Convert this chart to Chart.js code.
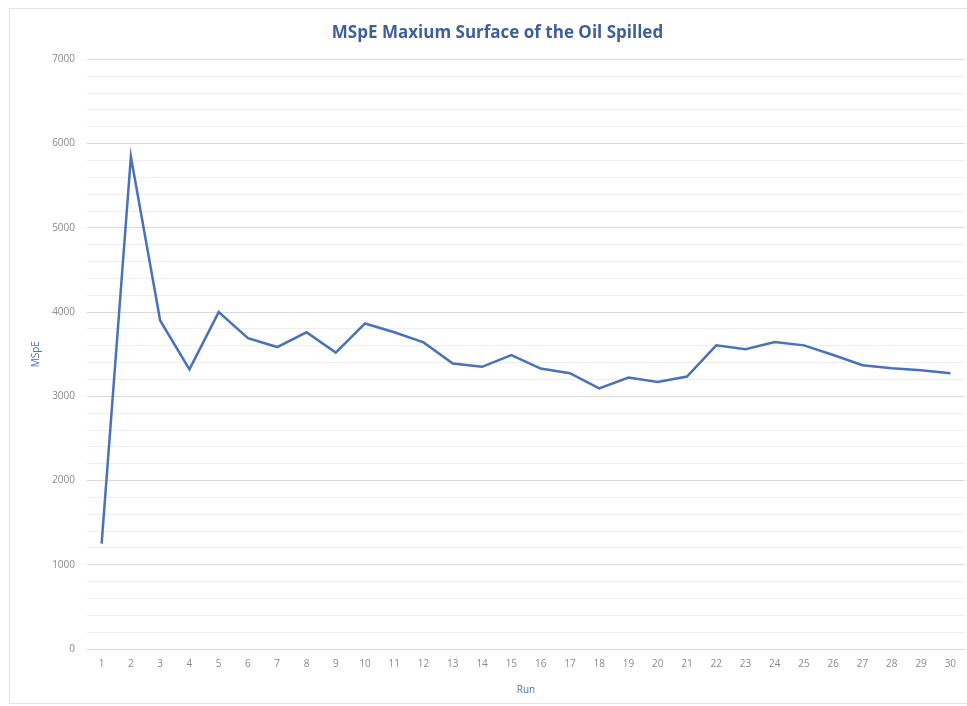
<!DOCTYPE html>
<html>
<head>
<meta charset="utf-8">
<title>MSpE Maxium Surface of the Oil Spilled</title>
<script src="https://cdn.jsdelivr.net/npm/chart.js@4"></script>
<style>
  html, body { margin: 0; padding: 0; background: #fff; }
  #wrap { position: relative; width: 967px; height: 706px; }
</style>
</head>
<body>
<div id="wrap"><canvas id="chart"></canvas></div>
<script>
// --- data ---
const runs = ['1','2','3','4','5','6','7','8','9','10','11','12','13','14','15',
              '16','17','18','19','20','21','22','23','24','25','26','27','28','29','30'];
const mspe = [1250, 5845, 3900, 3320, 4000, 3690, 3585, 3760, 3520, 3865,
              3760, 3640, 3390, 3350, 3488, 3330, 3275, 3095, 3222, 3170,
              3235, 3605, 3560, 3645, 3605, 3490, 3370, 3333, 3310, 3275];
const yMax = 7000;
const yStep = 200;   // minor grid every 200, labels every 1000

// light frame round the chart area, like the spreadsheet chart
const frame = {
  id: 'frame',
  beforeDraw(chart) {
    const c = chart.ctx;
    c.save();
    c.strokeStyle = '#e3e3e3';
    c.lineWidth = 1;
    c.strokeRect(9.5, 8.5, 970, 695);
    c.restore();
  }
};

new Chart(document.getElementById('chart'), {
  type: 'line',
  data: {
    labels: runs,
    datasets: [{
      label: 'MSpE',
      data: mspe,
      borderColor: '#4a72b8',
      borderWidth: 2.5,
      pointRadius: 0,
      tension: 0,
      fill: false
    }]
  },
  options: {
    responsive: true,
    maintainAspectRatio: false,
    animation: false,
    layout: { padding: { left: 30, right: 2, top: 12, bottom: 10 } },
    plugins: {
      legend: { display: false },
      tooltip: { enabled: false },
      title: {
        display: true,
        text: 'MSpE Maxium Surface of the Oil Spilled',
        color: '#3e5f9e',
        font: { family: 'Open Sans', size: 17, weight: 'bold' },
        padding: { top: 11, bottom: 16 }
      }
    },
    scales: {
      x: {
        offset: true,
        grid: { display: false, drawTicks: false },
        border: { display: true, color: '#d9d9d9', width: 1 },
        ticks: {
          color: '#8a8a8a',
          font: { family: 'Open Sans', size: 10 },
          padding: 9,
          maxRotation: 0,
          autoSkip: false
        },
        title: {
          display: true,
          text: 'Run',
          color: '#4a72b8',
          font: { family: 'Open Sans', size: 10 },
          padding: { top: 6, bottom: 0 }
        },
        afterFit(scale) { scale.height = 47; }
      },
      y: {
        min: 0,
        max: yMax,
        grid: {
          drawTicks: false,
          color: ctx => (ctx.tick && ctx.tick.value % 1000 === 0) ? '#d9d9d9' : '#eeeeee',
          lineWidth: 1
        },
        border: { display: false },
        ticks: {
          stepSize: yStep,
          maxTicksLimit: 100,
          autoSkip: false,
          color: '#8a8a8a',
          font: { family: 'Open Sans', size: 10 },
          padding: 12,
          callback: v => (v % 1000 === 0 ? String(v) : '')
        },
        title: {
          display: true,
          text: 'MSpE',
          color: '#4a72b8',
          font: { family: 'Open Sans', size: 10 },
          padding: { top: 0, bottom: 4 }
        },
        afterFit(scale) { scale.width = 57; }
      }
    }
  },
  plugins: [frame]
});
</script>
</body>
</html>
